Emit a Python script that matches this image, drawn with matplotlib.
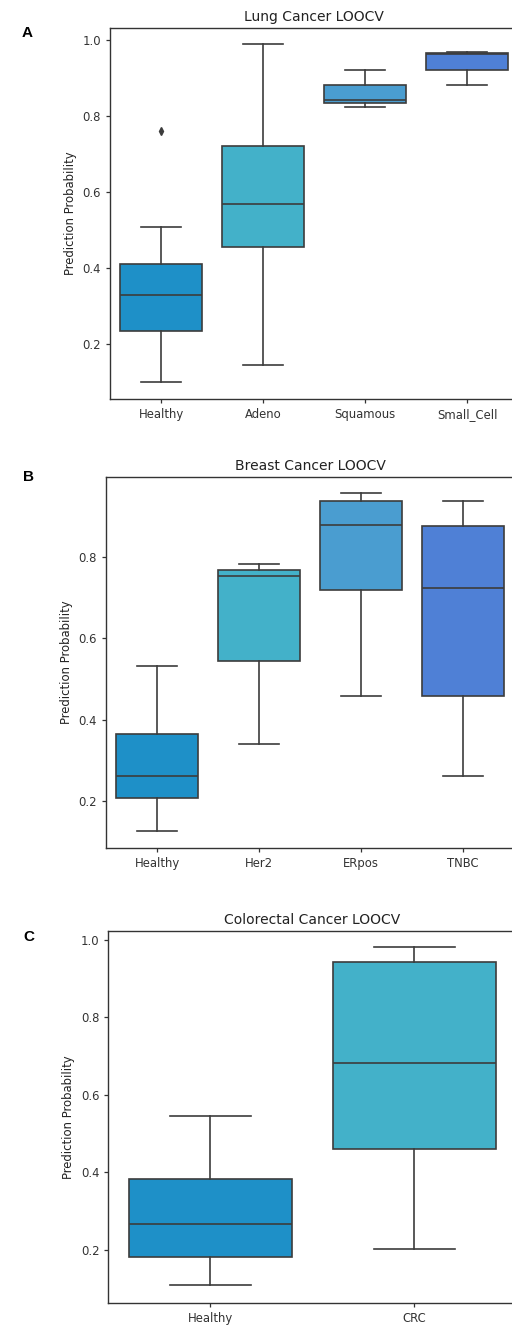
import matplotlib
matplotlib.use("Agg")
import matplotlib.pyplot as plt

# Panel A - lung
lung_groups = ["Healthy", "Adeno", "Squamous", "Small_Cell"]
lung_whislo = [0.101, 0.145, 0.824, 0.881]
lung_q1 = [0.234, 0.456, 0.833, 0.922]
lung_med = [0.329, 0.568, 0.842, 0.964]
lung_q3 = [0.410, 0.722, 0.881, 0.966]
lung_whishi = [0.509, 0.989, 0.920, 0.969]
lung_fliers = [[0.761], [], [], []]

# Panel B - breast
breast_groups = ["Healthy", "Her2", "ERpos", "TNBC"]
breast_whislo = [0.127, 0.340, 0.459, 0.261]
breast_q1 = [0.207, 0.545, 0.719, 0.459]
breast_med = [0.261, 0.753, 0.878, 0.725]
breast_q3 = [0.364, 0.769, 0.937, 0.877]
breast_whishi = [0.533, 0.784, 0.959, 0.937]
breast_fliers = [[], [], [], []]

# Panel C - colorectal
crc_groups = ["Healthy", "CRC"]
crc_whislo = [0.110, 0.203]
crc_q1 = [0.180, 0.460]
crc_med = [0.266, 0.683]
crc_q3 = [0.382, 0.942]
crc_whishi = [0.546, 0.983]
crc_fliers = [[], []]

colors = ["#1e90c8", "#43b1c9", "#4a9dd0", "#4f80d6"]
line_col = "#3c3c3c"


def make_stats(groups, lo, q1, med, q3, hi, fl):
    return [dict(label=g, whislo=lo[i], q1=q1[i], med=med[i], q3=q3[i],
                 whishi=hi[i], fliers=fl[i])
            for i, g in enumerate(groups)]


def draw_panel(ax, stats, title, ylim, yticks):
    n = len(stats)
    lw = 1.2
    bp = ax.bxp(stats, positions=range(n), widths=0.8, patch_artist=True,
                capwidths=0.4, showfliers=True,
                boxprops=dict(edgecolor=line_col, linewidth=lw),
                whiskerprops=dict(color=line_col, linewidth=lw),
                capprops=dict(color=line_col, linewidth=lw),
                medianprops=dict(color=line_col, linewidth=lw),
                flierprops=dict(marker="d", markerfacecolor=line_col,
                                markeredgecolor=line_col, markersize=4))
    for patch, c in zip(bp["boxes"], colors):
        patch.set_facecolor(c)
    ax.set_xlim(-0.5, n - 0.5)
    ax.set_ylim(*ylim)
    ax.set_yticks(yticks)
    ax.set_yticklabels([f"{t:.1f}" for t in yticks])
    ax.set_xticks(range(n))
    ax.set_xticklabels([s["label"] for s in stats])
    ax.set_title(title, fontsize=10, pad=5, color="#222222")
    ax.set_ylabel("Prediction Probability", fontsize=8.4, color="#222222")
    ax.tick_params(labelsize=8.4, length=3, width=0.9, colors="#333333")
    for sp in ax.spines.values():
        sp.set_linewidth(1.0)
        sp.set_color("#333333")


fig = plt.figure(figsize=(5.12, 13.27), dpi=100)
W = 408 / 512

axA = fig.add_axes([110 / 512, 1 - 399 / 1327, W, 371 / 1327])
draw_panel(axA, make_stats(lung_groups, lung_whislo, lung_q1, lung_med,
                           lung_q3, lung_whishi, lung_fliers),
           "Lung Cancer LOOCV", (0.0553, 1.0316), [0.2, 0.4, 0.6, 0.8, 1.0])

axB = fig.add_axes([106 / 512, 1 - 848 / 1327, W, 371.3 / 1327])
draw_panel(axB, make_stats(breast_groups, breast_whislo, breast_q1,
                           breast_med, breast_q3, breast_whishi, breast_fliers),
           "Breast Cancer LOOCV", (0.084, 0.998), [0.2, 0.4, 0.6, 0.8])

axC = fig.add_axes([108.3 / 512, 1 - 1302.7 / 1327, W, 372 / 1327])
draw_panel(axC, make_stats(crc_groups, crc_whislo, crc_q1, crc_med,
                           crc_q3, crc_whishi, crc_fliers),
           "Colorectal Cancer LOOCV", (0.063, 1.024), [0.2, 0.4, 0.6, 0.8, 1.0])

for letter, x, y in [("A", 27, 33), ("B", 28, 477), ("C", 29, 937)]:
    fig.text(x / 512, 1 - y / 1327, letter, fontsize=11, fontweight="bold",
             family="Liberation Sans", ha="center", va="center")

fig.savefig("out.png", dpi=100)
